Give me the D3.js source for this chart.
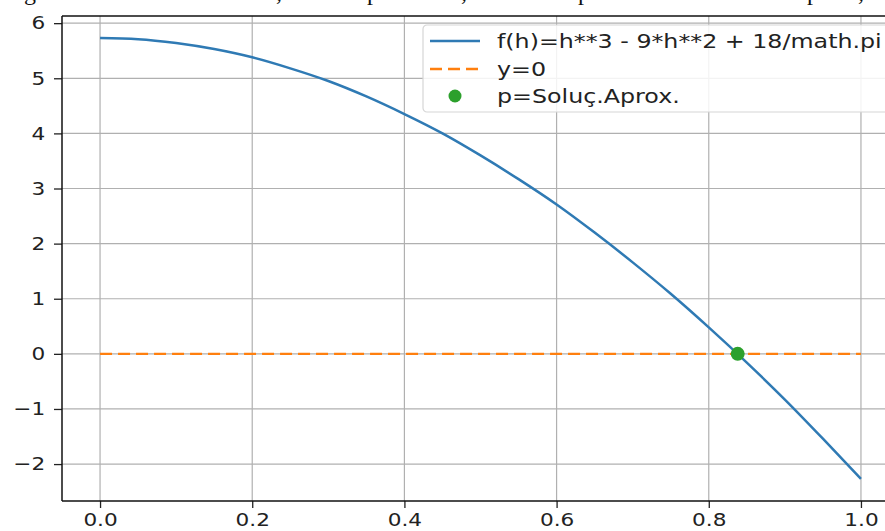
<!DOCTYPE html>
<html>
<head>
<meta charset="utf-8">
<script src="https://cdn.jsdelivr.net/npm/d3@7"></script>
<style>
  body { margin: 0; background: #fff; }
  svg { display: block; font-family: "DejaVu Sans", sans-serif; }
</style>
</head>
<body>
<div id="chart"></div>
<script>
// data
const hValues = [0, 0.05, 0.1, 0.15, 0.2, 0.25, 0.3, 0.35, 0.4, 0.45, 0.5,
                 0.55, 0.6, 0.65, 0.7, 0.75, 0.8, 0.85, 0.9, 0.95, 1.0];
const fValues = [5.73, 5.71, 5.64, 5.53, 5.38, 5.18, 4.95, 4.67, 4.35, 4.0, 3.6,
                 3.17, 2.71, 2.2, 1.66, 1.09, 0.48, -0.16, -0.83, -1.54, -2.27];
const zeroLine = [[0, 0], [1, 0]];
const rootPoint = [0.838, 0];

const xTicks = [0, 0.2, 0.4, 0.6, 0.8, 1.0];
const xTickLabels = ["0.0", "0.2", "0.4", "0.6", "0.8", "1.0"];
const yTicks = [-2, -1, 0, 1, 2, 3, 4, 5, 6];
const yTickLabels = ["\u22122", "\u22121", "0", "1", "2", "3", "4", "5", "6"];

const legendLabels = ["f(h)=h**3 - 9*h**2 + 18/math.pi", "y=0", "p=Soluç.Aprox."];

// cut-off line of text above the figure (only descenders show)
const topGlyphs = [["g", 24], [",", 276], ["p", 367], [",", 461], ["p", 578], ["p", 807], [",", 858]];

const width = 885, height = 531;
const blue = "#2f7ab4", orange = "#ff7f0e", green = "#2ca02c";
const stretch = 1.2; // the picture's text is a bit wider than tall

const svg = d3.select("#chart").append("svg")
  .attr("width", width)
  .attr("height", height);

// scales (matplotlib-style 5% margins, right side cropped by the picture)
const x = d3.scaleLinear().domain([-0.05, 1.05]).range([62, 899]);
const y = d3.scaleLinear().domain([-2.67, 6.13]).range([501, 16]);

// top text fragments
svg.append("g")
  .selectAll("text")
  .data(topGlyphs)
  .enter()
  .append("text")
  .attr("x", d => d[1])
  .attr("y", 0)
  .attr("font-family", "Liberation Serif, serif")
  .attr("font-size", 24)
  .attr("fill", "#111")
  .text(d => d[0]);

// grid
svg.append("g")
  .selectAll("line")
  .data(xTicks)
  .enter()
  .append("line")
  .attr("x1", d => x(d)).attr("x2", d => x(d))
  .attr("y1", y.range()[1]).attr("y2", y.range()[0])
  .attr("stroke", "#b0b0b0")
  .attr("stroke-width", 1.2);

svg.append("g")
  .selectAll("line")
  .data(yTicks)
  .enter()
  .append("line")
  .attr("x1", x.range()[0]).attr("x2", width)
  .attr("y1", d => y(d)).attr("y2", d => y(d))
  .attr("stroke", "#b0b0b0")
  .attr("stroke-width", 1.2);

// axes
const xAxis = d3.axisBottom(x)
  .tickValues(xTicks)
  .tickSize(7)
  .tickPadding(5)
  .tickFormat((d, i) => xTickLabels[i]);

const yAxis = d3.axisLeft(y)
  .tickValues(yTicks)
  .tickSize(8)
  .tickPadding(6)
  .tickFormat((d, i) => yTickLabels[i]);

const gx = svg.append("g")
  .attr("transform", `translate(0, ${y.range()[0]})`)
  .call(xAxis);
const gy = svg.append("g")
  .attr("transform", `translate(${x.range()[0]}, 0)`)
  .call(yAxis);

[gx, gy].forEach(g => {
  g.select(".domain").remove();
  g.selectAll(".tick line").attr("stroke", "#222").attr("stroke-width", 1.3);
  g.selectAll(".tick text")
    .attr("font-family", "DejaVu Sans")
    .attr("font-size", 18)
    .attr("fill", "#222")
    .attr("transform", `scale(${stretch}, 1)`);
});

// spines (left, top, bottom)
svg.append("line")
  .attr("x1", x.range()[0]).attr("x2", x.range()[0])
  .attr("y1", y.range()[1]).attr("y2", y.range()[0])
  .attr("stroke", "#111").attr("stroke-width", 1.5);
svg.append("line")
  .attr("x1", x.range()[0]).attr("x2", width)
  .attr("y1", y.range()[1]).attr("y2", y.range()[1])
  .attr("stroke", "#111").attr("stroke-width", 1.5);
svg.append("line")
  .attr("x1", x.range()[0]).attr("x2", width)
  .attr("y1", y.range()[0]).attr("y2", y.range()[0])
  .attr("stroke", "#111").attr("stroke-width", 1.5);

// y=0 dashed line
svg.append("path")
  .datum(zeroLine)
  .attr("d", d3.line().x(d => x(d[0])).y(d => y(d[1])))
  .attr("fill", "none")
  .attr("stroke", orange)
  .attr("stroke-width", 2.4)
  .attr("stroke-dasharray", "12,6");

// f(h) curve
const curve = d3.line()
  .x((d, i) => x(hValues[i]))
  .y(d => y(d))
  .curve(d3.curveMonotoneX);

svg.append("path")
  .datum(fValues)
  .attr("d", curve)
  .attr("fill", "none")
  .attr("stroke", blue)
  .attr("stroke-width", 2.5);

// approximate root
svg.append("circle")
  .attr("cx", x(rootPoint[0]))
  .attr("cy", y(rootPoint[1]))
  .attr("r", 7)
  .attr("fill", green);

// legend
const legend = svg.append("g").attr("transform", "translate(423, 25)");
legend.append("rect")
  .attr("x", 0).attr("y", 0)
  .attr("width", 480).attr("height", 87)
  .attr("rx", 4)
  .attr("fill", "#fff").attr("fill-opacity", 0.85)
  .attr("stroke", "#d6d6d6").attr("stroke-width", 1.2);

const rowY = [16, 44, 71];
legend.append("line")
  .attr("x1", 7).attr("x2", 57)
  .attr("y1", rowY[0]).attr("y2", rowY[0])
  .attr("stroke", blue).attr("stroke-width", 2.5);
legend.append("line")
  .attr("x1", 7).attr("x2", 57)
  .attr("y1", rowY[1]).attr("y2", rowY[1])
  .attr("stroke", orange).attr("stroke-width", 2.4)
  .attr("stroke-dasharray", "12,6");
legend.append("circle")
  .attr("cx", 32).attr("cy", rowY[2])
  .attr("r", 6.5)
  .attr("fill", green);

legend.selectAll("text.lbl")
  .data(legendLabels)
  .enter()
  .append("text")
  .attr("class", "lbl")
  .attr("transform", (d, i) => `translate(74, ${rowY[i]}) scale(1.25, 1)`)
  .attr("dy", "0.35em")
  .attr("font-family", "DejaVu Sans")
  .attr("font-size", 19)
  .attr("fill", "#222")
  .text(d => d);
</script>
</body>
</html>
